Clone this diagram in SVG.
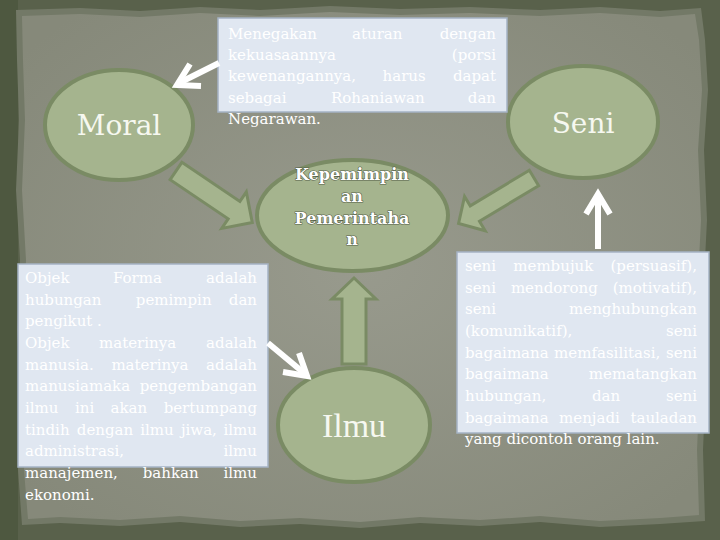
<svg xmlns="http://www.w3.org/2000/svg" width="720" height="540" viewBox="0 0 720 540">
<defs>
<radialGradient id="paper" cx="50%" cy="50%" r="65%">
<stop offset="0" stop-color="#989a8d"/>
<stop offset="1" stop-color="#86897a"/>
</radialGradient>
<style>
.node{fill:#a5b48e;stroke:#7a8b64;stroke-width:4}
.box{fill:#e0e7f1;stroke:#a5b3c4;stroke-width:1.5}
.block{fill:#a5b48e;stroke:#7a8b64;stroke-width:3;stroke-linejoin:miter}
.wline{fill:none;stroke:#ffffff;stroke-width:6}
.t{font-family:"DejaVu Serif",serif;font-size:15px;fill:#ffffff}
.big{font-family:"DejaVu Serif",serif;font-size:28px;fill:#f6f8f0;text-anchor:middle}
.kep{font-family:"DejaVu Serif",serif;font-size:16px;font-weight:bold;fill:#ffffff;text-anchor:middle;stroke:#56604a;stroke-width:1.2;paint-order:stroke}
</style>
</defs>
<rect width="720" height="540" fill="#59614b"/>
<rect width="18" height="540" fill="#4e5840"/>
<polygon fill="#737967" points="16,10 80,8 140,11 200,7 260,10 330,6 400,9 470,7 540,10 600,7 660,11 701,8 705,40 708,90 704,150 707,220 703,300 706,380 703,450 705,521 660,524 600,527 540,522 480,526 420,523 360,528 300,524 240,527 180,522 120,526 60,523 22,525 18,470 21,400 17,330 20,260 16,190 19,120 17,60"/>
<polygon fill="url(#paper)" points="22,16 80,14 140,17 200,13 260,16 330,12 400,15 470,13 540,16 600,13 660,17 695,14 699,40 702,90 698,150 701,220 697,300 700,380 697,450 699,515 660,518 600,521 540,516 480,520 420,517 360,522 300,518 240,521 180,516 120,520 60,517 28,519 24,470 27,400 23,330 26,260 22,190 25,120 23,60"/>

<g id="moral">
<ellipse class="node" cx="119" cy="125" rx="74" ry="55"/>
<text class="big" x="119" y="135">Moral</text>
</g>
<g id="seni">
<ellipse class="node" cx="583" cy="122" rx="75" ry="56"/>
<text class="big" x="583" y="133">Seni</text>
</g>
<g id="kepemimpinan">
<ellipse class="node" cx="352.5" cy="215.5" rx="95.5" ry="55.5"/>
<text class="kep" x="352" y="180">Kepemimpin</text>
<text class="kep" x="352" y="202">an</text>
<text class="kep" x="352" y="223.5">Pemerintaha</text>
<text class="kep" x="352" y="245">n</text>
</g>
<g id="ilmu">
<ellipse class="node" cx="354" cy="425" rx="76" ry="57"/>
<text x="354" y="437" text-anchor="middle" font-family="'Liberation Serif',serif" font-size="34" fill="#f6f8f0">Ilmu</text>
</g>

<g id="box-top">
<rect class="box" x="218" y="18" width="289" height="94"/>
<text class="t" y="38.5"><tspan x="228">Menegakan</tspan><tspan x="352">aturan</tspan><tspan x="496" text-anchor="end">dengan</tspan></text>
<text class="t" y="59.9"><tspan x="228">kekuasaannya</tspan><tspan x="496" text-anchor="end">(porsi</tspan></text>
<text class="t" y="81.3"><tspan x="228">kewenangannya,</tspan><tspan x="382.6">harus</tspan><tspan x="496" text-anchor="end">dapat</tspan></text>
<text class="t" y="102.7"><tspan x="228">sebagai</tspan><tspan x="330.9">Rohaniawan</tspan><tspan x="496" text-anchor="end">dan</tspan></text>
<text class="t" x="228" y="124.1">Negarawan.</text>
</g>

<g id="box-left">
<rect class="box" x="18" y="264" width="250" height="203"/>
<text class="t" y="283"><tspan x="25">Objek</tspan><tspan x="112.9">Forma</tspan><tspan x="257" text-anchor="end">adalah</tspan></text>
<text class="t" y="304.7"><tspan x="25">hubungan</tspan><tspan x="135.8">pemimpin</tspan><tspan x="257" text-anchor="end">dan</tspan></text>
<text class="t" x="25" y="326.3">pengikut .</text>
<text class="t" y="348"><tspan x="25">Objek</tspan><tspan x="99">materinya</tspan><tspan x="257" text-anchor="end">adalah</tspan></text>
<text class="t" y="369.7"><tspan x="25">manusia.</tspan><tspan x="111.4">materinya</tspan><tspan x="257" text-anchor="end">adalah</tspan></text>
<text class="t" y="391.3"><tspan x="25">manusiamaka</tspan><tspan x="257" text-anchor="end">pengembangan</tspan></text>
<text class="t" y="413"><tspan x="25">ilmu</tspan><tspan x="75">ini</tspan><tspan x="110.5">akan</tspan><tspan x="257" text-anchor="end">bertumpang</tspan></text>
<text class="t" y="434.7"><tspan x="25">tindih</tspan><tspan x="76.8">dengan</tspan><tspan x="140.2">ilmu</tspan><tspan x="180.9">jiwa,</tspan><tspan x="257" text-anchor="end">ilmu</tspan></text>
<text class="t" y="456.3"><tspan x="25">administrasi,</tspan><tspan x="257" text-anchor="end">ilmu</tspan></text>
<text class="t" y="478"><tspan x="25">manajemen,</tspan><tspan x="142.7">bahkan</tspan><tspan x="257" text-anchor="end">ilmu</tspan></text>
<text class="t" x="25" y="499.7">ekonomi.</text>
</g>

<g id="box-right">
<rect class="box" x="457" y="252" width="252" height="181"/>
<text class="t" y="271"><tspan x="465">seni</tspan><tspan x="513.3">membujuk</tspan><tspan x="697" text-anchor="end">(persuasif),</tspan></text>
<text class="t" y="292.7"><tspan x="465">seni</tspan><tspan x="510.9">mendorong</tspan><tspan x="697" text-anchor="end">(motivatif),</tspan></text>
<text class="t" y="314.3"><tspan x="465">seni</tspan><tspan x="697" text-anchor="end">menghubungkan</tspan></text>
<text class="t" y="336"><tspan x="465">(komunikatif),</tspan><tspan x="697" text-anchor="end">seni</tspan></text>
<text class="t" y="357.7"><tspan x="465">bagaimana</tspan><tspan x="554.1">memfasilitasi,</tspan><tspan x="697" text-anchor="end">seni</tspan></text>
<text class="t" y="379.3"><tspan x="465">bagaimana</tspan><tspan x="697" text-anchor="end">mematangkan</tspan></text>
<text class="t" y="401"><tspan x="465">hubungan,</tspan><tspan x="592">dan</tspan><tspan x="697" text-anchor="end">seni</tspan></text>
<text class="t" y="422.7"><tspan x="465">bagaimana</tspan><tspan x="559.1">menjadi</tspan><tspan x="697" text-anchor="end">tauladan</tspan></text>
<text class="t" x="465" y="444.3">yang dicontoh orang lain.</text>
</g>

<g id="connectors">
<polygon class="block" transform="translate(176,171) rotate(34)" points="0,-10.5 70,-10.5 70,-22 92,0 70,22 70,10.5 0,10.5"/>
<polygon class="block" transform="translate(534,178) rotate(149)" points="0,-9 69,-9 69,-20 88,0 69,20 69,9 0,9"/>
<polygon class="block" transform="translate(354,364) rotate(-90)" points="0,-12 65,-12 65,-22 86,0 65,22 65,12 0,12"/>
<line class="wline" x1="219" y1="63" x2="181" y2="82"/>
<polyline class="wline" points="190,64 177,85 201,86"/>
<line class="wline" x1="268" y1="343" x2="304" y2="373"/>
<polyline class="wline" points="283,372 307,376 299,353"/>
<line class="wline" x1="598" y1="249" x2="598" y2="195" stroke-width="8"/>
<polyline class="wline" points="586,214 598,194 610,214" stroke-width="7"/>
</g>
</svg>
